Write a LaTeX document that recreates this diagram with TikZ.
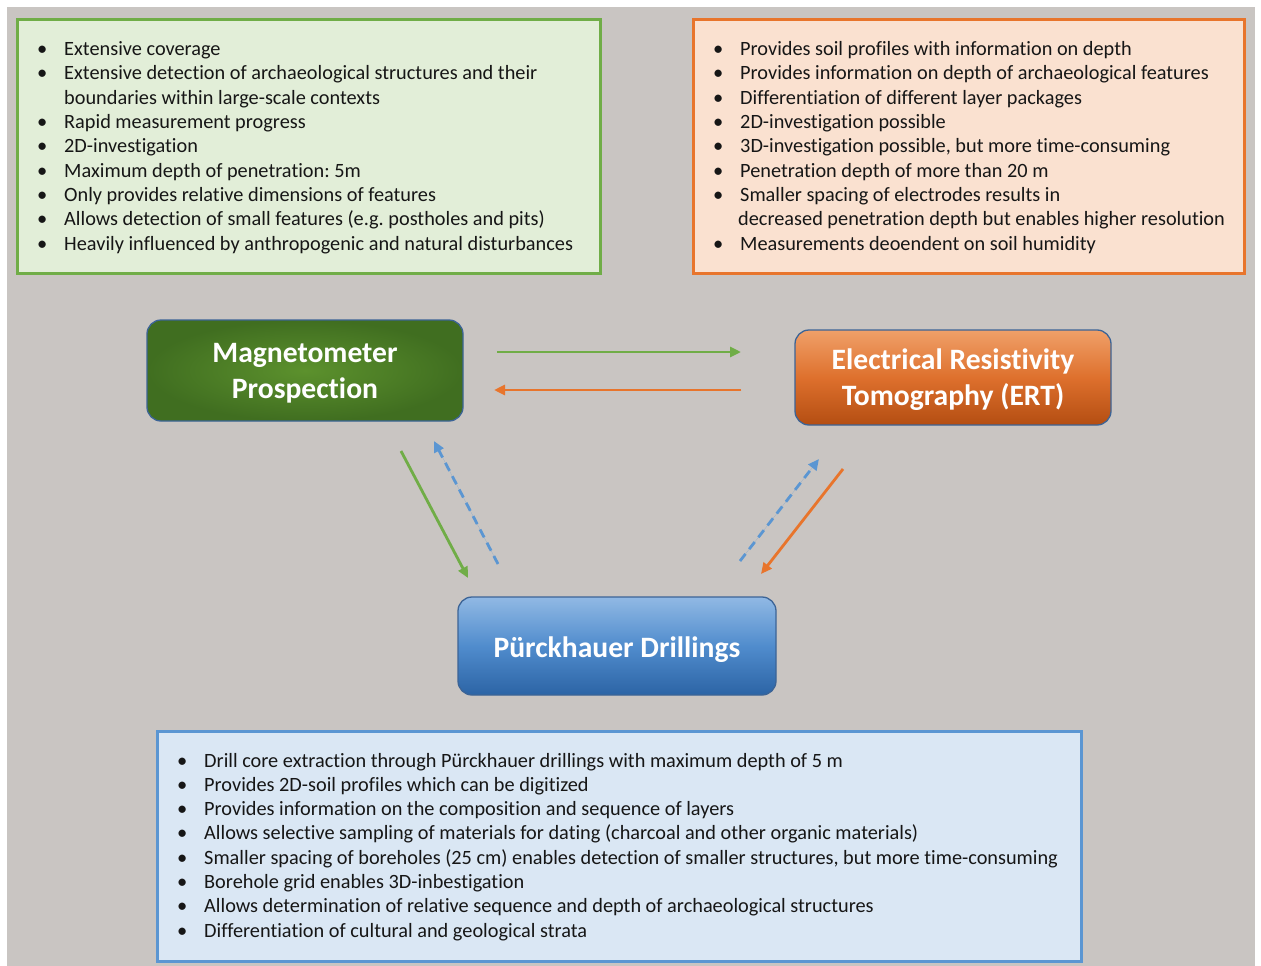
\documentclass[tikz,border=0pt]{standalone}
\usepackage{fontspec}
\setmainfont[Ligatures={NoCommon}]{Carlito}
\usetikzlibrary{arrows.meta}
\frenchspacing
\definecolor{bg}{RGB}{201,197,194}
\definecolor{gfill}{RGB}{226,238,216}
\definecolor{gline}{RGB}{112,173,71}
\definecolor{ofill}{RGB}{250,225,208}
\definecolor{oline}{RGB}{232,117,44}
\definecolor{bfill}{RGB}{218,231,244}
\definecolor{bline}{RGB}{91,150,210}
\definecolor{nborder}{RGB}{60,100,150}
\definecolor{txtc}{RGB}{22,22,22}
\tikzset{
  infobox/.style={rectangle, line width=3pt, inner sep=0pt},
  bul/.style={anchor=base west, inner sep=0pt, font=\fontsize{20.5}{24}\selectfont\frenchspacing, text=txtc},
  txt/.style={anchor=base west, inner sep=0pt, font=\fontsize{20.3}{24}\selectfont\frenchspacing, text=txtc},
  titlebox/.style={rectangle, rounded corners=14pt, draw=nborder, line width=1.3pt,
    minimum width=316pt, inner sep=0pt},
  titletext/.style={text=white, align=center, font=\fontsize{29.6}{36}\selectfont\bfseries, inner sep=0pt},
  arr/.style={line width=2.8pt, -{Triangle[length=11pt,width=10pt]}},
  darr/.style={line width=2.8pt, dash pattern=on 9pt off 6pt, -{Triangle[length=11pt,width=10pt]}},
}
\begin{document}
\begin{tikzpicture}[x=1pt,y=-1pt]
\useasboundingbox (0,0) rectangle (1261,966);
\fill[bg] (7,7) rectangle (1255,966);

% info boxes
\node[infobox, fill=gfill, draw=gline, minimum width=583pt, minimum height=254pt] (gbox) at (308.5,146.5) {};
\node[infobox, fill=ofill, draw=oline, minimum width=551pt, minimum height=254pt] (obox) at (968.5,146.5) {};
\node[infobox, fill=bfill, draw=bline, minimum width=924pt, minimum height=230pt] (bbox) at (619,846) {};

% green text
\node[bul] (g1b) at (37,55.5) {•};
\node[txt] (g1) at (64,55.5) {Extensive coverage};
\node[bul] (g2b) at (37,79.8) {•};
\node[txt] (g2) at (64,79.8) {Extensive detection of archaeological structures and their};
\node[txt] (g3) at (64,104.2) {boundaries within large-scale contexts};
\node[bul] (g4b) at (37,128.5) {•};
\node[txt] (g4) at (64,128.5) {Rapid measurement progress};
\node[bul] (g5b) at (37,152.9) {•};
\node[txt] (g5) at (64,152.9) {2D-investigation};
\node[bul] (g6b) at (37,177.2) {•};
\node[txt] (g6) at (64,177.2) {Maximum depth of penetration: 5m};
\node[bul] (g7b) at (37,201.6) {•};
\node[txt] (g7) at (64,201.6) {Only provides relative dimensions of features};
\node[bul] (g8b) at (37,225.9) {•};
\node[txt] (g8) at (64,225.9) {Allows detection of small features (e.g. postholes and pits)};
\node[bul] (g9b) at (37,250.3) {•};
\node[txt] (g9) at (64,250.3) {Heavily influenced by anthropogenic and natural disturbances};

% orange text
\node[bul] (o1b) at (713,55.5) {•};
\node[txt] (o1) at (740,55.5) {Provides soil profiles with information on depth};
\node[bul] (o2b) at (713,79.8) {•};
\node[txt] (o2) at (740,79.8) {Provides information on depth of archaeological features};
\node[bul] (o3b) at (713,104.2) {•};
\node[txt] (o3) at (740,104.2) {Differentiation of different layer packages};
\node[bul] (o4b) at (713,128.5) {•};
\node[txt] (o4) at (740,128.5) {2D-investigation possible};
\node[bul] (o5b) at (713,152.9) {•};
\node[txt] (o5) at (740,152.9) {3D-investigation possible, but more time-consuming};
\node[bul] (o6b) at (713,177.2) {•};
\node[txt] (o6) at (740,177.2) {Penetration depth of more than 20 m};
\node[bul] (o7b) at (713,201.6) {•};
\node[txt] (o7) at (740,201.6) {Smaller spacing of electrodes results in};
\node[txt] (o8) at (738,225.9) {decreased penetration depth but enables higher resolution};
\node[bul] (o9b) at (713,250.3) {•};
\node[txt] (o9) at (740,250.3) {Measurements deoendent on soil humidity};

% blue text
\node[bul] (b1b) at (177,767) {•};
\node[txt] (b1) at (204,767) {Drill core extraction through Pürckhauer drillings with maximum depth of 5 m};
\node[bul] (b2b) at (177,791.3) {•};
\node[txt] (b2) at (204,791.3) {Provides 2D-soil profiles which can be digitized};
\node[bul] (b3b) at (177,815.6) {•};
\node[txt] (b3) at (204,815.6) {Provides information on the composition and sequence of layers};
\node[bul] (b4b) at (177,839.9) {•};
\node[txt] (b4) at (204,839.9) {Allows selective sampling of materials for dating (charcoal and other organic materials)};
\node[bul] (b5b) at (177,864.2) {•};
\node[txt] (b5) at (204,864.2) {Smaller spacing of boreholes (25 cm) enables detection of smaller structures, but more time-consuming};
\node[bul] (b6b) at (177,888.5) {•};
\node[txt] (b6) at (204,888.5) {Borehole grid enables 3D-inbestigation};
\node[bul] (b7b) at (177,912.8) {•};
\node[txt] (b7) at (204,912.8) {Allows determination of relative sequence and depth of archaeological structures};
\node[bul] (b8b) at (177,937.1) {•};
\node[txt] (b8) at (204,937.1) {Differentiation of cultural and geological strata};

% title boxes
\node[titlebox, minimum height=101pt, inner color={rgb,255:red,92;green,145;blue,45}, outer color={rgb,255:red,64;green,110;blue,32}] (mag) at (305,370.5) {};
\node[titlebox, minimum height=95pt, top color={rgb,255:red,240;green,160;blue,105}, bottom color={rgb,255:red,180;green,78;blue,18}, middle color={rgb,255:red,222;green,112;blue,45}] (ert) at (953,377.5) {};
\node[titlebox, minimum width=318pt, minimum height=98pt, top color={rgb,255:red,145;green,185;blue,228}, bottom color={rgb,255:red,44;green,100;blue,165}, middle color={rgb,255:red,80;green,140;blue,205}] (pd) at (617,646) {};
\node[titletext] (magt) at ([yshift=-3pt]mag.center) {Magnetometer\\Prospection};
\node[titletext] (ertt) at ([yshift=-2.5pt]ert.center) {Electrical Resistivity\\Tomography (ERT)};
\node[titletext] (pdt) at ([yshift=-3.5pt]pd.center) {Pürckhauer Drillings};

% connector endpoints
\coordinate (a1s) at (497,352); \coordinate (a1e) at (741,352);
\coordinate (a2s) at (741,390); \coordinate (a2e) at (494,390);
\coordinate (a3s) at (401,451); \coordinate (a3e) at (468,578);
\coordinate (a4s) at (498,564); \coordinate (a4e) at (434,441);
\coordinate (a5s) at (740,561); \coordinate (a5e) at (819,459);
\coordinate (a6s) at (843,469); \coordinate (a6e) at (761,574);

\draw[arr, draw=gline, fill=gline] (a1s) -- (a1e);
\draw[arr, draw=oline, fill=oline] (a2s) -- (a2e);
\draw[arr, draw=gline, fill=gline] (a3s) -- (a3e);
\draw[darr, draw=bline, fill=bline] (a4s) -- (a4e);
\draw[darr, draw=bline, fill=bline] (a5s) -- (a5e);
\draw[arr, draw=oline, fill=oline] (a6s) -- (a6e);
\end{tikzpicture}
\end{document}
